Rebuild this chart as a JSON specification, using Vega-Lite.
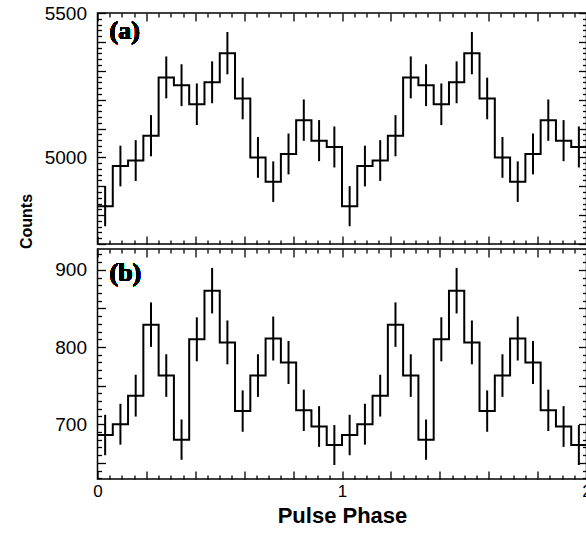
{
  "$schema": "https://vega.github.io/schema/vega-lite/v6.json",
  "padding": {"left": 16.5, "top": 3, "right": 0, "bottom": 0},
  "spacing": 5,
  "bounds": "flush",
  "datasets": {
    "a": [
      {"lo": 0, "hi": 0.0625, "mid": 0.03125, "c": 4831, "e": 69.5},
      {"lo": 0.0625, "hi": 0.125, "mid": 0.09375, "c": 4970, "e": 70.5},
      {"lo": 0.125, "hi": 0.1875, "mid": 0.15625, "c": 4989, "e": 70.6},
      {"lo": 0.1875, "hi": 0.25, "mid": 0.21875, "c": 5075, "e": 71.2},
      {"lo": 0.25, "hi": 0.3125, "mid": 0.28125, "c": 5277, "e": 72.6},
      {"lo": 0.3125, "hi": 0.375, "mid": 0.34375, "c": 5250, "e": 72.5},
      {"lo": 0.375, "hi": 0.4375, "mid": 0.40625, "c": 5184, "e": 72.0},
      {"lo": 0.4375, "hi": 0.5, "mid": 0.46875, "c": 5260, "e": 72.5},
      {"lo": 0.5, "hi": 0.5625, "mid": 0.53125, "c": 5361, "e": 73.2},
      {"lo": 0.5625, "hi": 0.625, "mid": 0.59375, "c": 5204, "e": 72.1},
      {"lo": 0.625, "hi": 0.6875, "mid": 0.65625, "c": 5000, "e": 70.7},
      {"lo": 0.6875, "hi": 0.75, "mid": 0.71875, "c": 4916, "e": 70.1},
      {"lo": 0.75, "hi": 0.8125, "mid": 0.78125, "c": 5012, "e": 70.8},
      {"lo": 0.8125, "hi": 0.875, "mid": 0.84375, "c": 5129, "e": 71.6},
      {"lo": 0.875, "hi": 0.9375, "mid": 0.90625, "c": 5058, "e": 71.1},
      {"lo": 0.9375, "hi": 1, "mid": 0.96875, "c": 5036, "e": 71.0},
      {"lo": 1, "hi": 1.0625, "mid": 1.03125, "c": 4831, "e": 69.5},
      {"lo": 1.0625, "hi": 1.125, "mid": 1.09375, "c": 4970, "e": 70.5},
      {"lo": 1.125, "hi": 1.1875, "mid": 1.15625, "c": 4989, "e": 70.6},
      {"lo": 1.1875, "hi": 1.25, "mid": 1.21875, "c": 5075, "e": 71.2},
      {"lo": 1.25, "hi": 1.3125, "mid": 1.28125, "c": 5277, "e": 72.6},
      {"lo": 1.3125, "hi": 1.375, "mid": 1.34375, "c": 5250, "e": 72.5},
      {"lo": 1.375, "hi": 1.4375, "mid": 1.40625, "c": 5184, "e": 72.0},
      {"lo": 1.4375, "hi": 1.5, "mid": 1.46875, "c": 5260, "e": 72.5},
      {"lo": 1.5, "hi": 1.5625, "mid": 1.53125, "c": 5361, "e": 73.2},
      {"lo": 1.5625, "hi": 1.625, "mid": 1.59375, "c": 5204, "e": 72.1},
      {"lo": 1.625, "hi": 1.6875, "mid": 1.65625, "c": 5000, "e": 70.7},
      {"lo": 1.6875, "hi": 1.75, "mid": 1.71875, "c": 4916, "e": 70.1},
      {"lo": 1.75, "hi": 1.8125, "mid": 1.78125, "c": 5012, "e": 70.8},
      {"lo": 1.8125, "hi": 1.875, "mid": 1.84375, "c": 5129, "e": 71.6},
      {"lo": 1.875, "hi": 1.9375, "mid": 1.90625, "c": 5058, "e": 71.1},
      {"lo": 1.9375, "hi": 2, "mid": 1.96875, "c": 5036, "e": 71.0}
    ],
    "b": [
      {"lo": 0, "hi": 0.0625, "mid": 0.03125, "c": 686, "e": 26.2},
      {"lo": 0.0625, "hi": 0.125, "mid": 0.09375, "c": 700, "e": 26.5},
      {"lo": 0.125, "hi": 0.1875, "mid": 0.15625, "c": 737, "e": 27.1},
      {"lo": 0.1875, "hi": 0.25, "mid": 0.21875, "c": 829, "e": 28.8},
      {"lo": 0.25, "hi": 0.3125, "mid": 0.28125, "c": 763, "e": 27.6},
      {"lo": 0.3125, "hi": 0.375, "mid": 0.34375, "c": 680, "e": 26.1},
      {"lo": 0.375, "hi": 0.4375, "mid": 0.40625, "c": 810, "e": 28.5},
      {"lo": 0.4375, "hi": 0.5, "mid": 0.46875, "c": 873, "e": 29.5},
      {"lo": 0.5, "hi": 0.5625, "mid": 0.53125, "c": 806, "e": 28.4},
      {"lo": 0.5625, "hi": 0.625, "mid": 0.59375, "c": 717, "e": 26.8},
      {"lo": 0.625, "hi": 0.6875, "mid": 0.65625, "c": 763, "e": 27.6},
      {"lo": 0.6875, "hi": 0.75, "mid": 0.71875, "c": 811, "e": 28.5},
      {"lo": 0.75, "hi": 0.8125, "mid": 0.78125, "c": 780, "e": 27.9},
      {"lo": 0.8125, "hi": 0.875, "mid": 0.84375, "c": 718, "e": 26.8},
      {"lo": 0.875, "hi": 0.9375, "mid": 0.90625, "c": 697, "e": 26.4},
      {"lo": 0.9375, "hi": 1, "mid": 0.96875, "c": 673, "e": 25.9},
      {"lo": 1, "hi": 1.0625, "mid": 1.03125, "c": 686, "e": 26.2},
      {"lo": 1.0625, "hi": 1.125, "mid": 1.09375, "c": 700, "e": 26.5},
      {"lo": 1.125, "hi": 1.1875, "mid": 1.15625, "c": 737, "e": 27.1},
      {"lo": 1.1875, "hi": 1.25, "mid": 1.21875, "c": 829, "e": 28.8},
      {"lo": 1.25, "hi": 1.3125, "mid": 1.28125, "c": 763, "e": 27.6},
      {"lo": 1.3125, "hi": 1.375, "mid": 1.34375, "c": 680, "e": 26.1},
      {"lo": 1.375, "hi": 1.4375, "mid": 1.40625, "c": 810, "e": 28.5},
      {"lo": 1.4375, "hi": 1.5, "mid": 1.46875, "c": 873, "e": 29.5},
      {"lo": 1.5, "hi": 1.5625, "mid": 1.53125, "c": 806, "e": 28.4},
      {"lo": 1.5625, "hi": 1.625, "mid": 1.59375, "c": 717, "e": 26.8},
      {"lo": 1.625, "hi": 1.6875, "mid": 1.65625, "c": 763, "e": 27.6},
      {"lo": 1.6875, "hi": 1.75, "mid": 1.71875, "c": 811, "e": 28.5},
      {"lo": 1.75, "hi": 1.8125, "mid": 1.78125, "c": 780, "e": 27.9},
      {"lo": 1.8125, "hi": 1.875, "mid": 1.84375, "c": 718, "e": 26.8},
      {"lo": 1.875, "hi": 1.9375, "mid": 1.90625, "c": 697, "e": 26.4},
      {"lo": 1.9375, "hi": 2, "mid": 1.96875, "c": 673, "e": 25.9}
    ]
  },
  "vconcat": [
    {
      "width": 489,
      "height": 231,
      "data": {"name": "a"},
      "layer": [
        {
          "mark": {"type": "line", "color": "black", "strokeWidth": 2},
          "transform": [{"fold": ["lo", "hi"], "as": ["k", "px"]}],
          "encoding": {
            "x": {
              "field": "px", "type": "quantitative",
              "scale": {"domain": [0, 2], "nice": false, "zero": false},
              "axis": {
                "orient": "bottom", "labels": false, "title": null,
                "values": [0,0.05,0.1,0.15,0.2,0.25,0.3,0.35,0.4,0.45,0.5,0.55,0.6,0.65,0.7,0.75,0.8,0.85,0.9,0.95,1,1.05,1.1,1.15,1.2,1.25,1.3,1.35,1.4,1.45,1.5,1.55,1.6,1.65,1.7,1.75,1.8,1.85,1.9,1.95,2],
                "tickSize": {"condition": {"test": "abs(datum.value*5-round(datum.value*5))<0.001", "value": -8}, "value": -4}
              }
            },
            "y": {
              "field": "c", "type": "quantitative",
              "scale": {"domain": [4700, 5500], "nice": false, "zero": false},
              "axis": {
                "orient": "left",
                "values": [4700,4720,4740,4760,4780,4800,4820,4840,4860,4880,4900,4920,4940,4960,4980,5000,5020,5040,5060,5080,5100,5120,5140,5160,5180,5200,5220,5240,5260,5280,5300,5320,5340,5360,5380,5400,5420,5440,5460,5480,5500],
                "labelExpr": "datum.value % 500 === 0 ? format(datum.value, 'd') : ''",
                "labelFontSize": 19,
                "labelPadding": 19,
                "title": "Counts",
                "titleFontSize": 16,
                "titlePadding": 10,
                "titleY": 208,
                "tickSize": {"condition": {"test": "datum.value % 100 === 0", "value": -8}, "value": -4}
              }
            },
            "order": [
              {"field": "mid", "type": "quantitative", "sort": "ascending"},
              {"field": "k", "type": "ordinal", "sort": "descending"}
            ]
          }
        },
        {
          "mark": {"type": "errorbar", "color": "black", "thickness": 2},
          "encoding": {
            "x": {
              "field": "mid", "type": "quantitative",
              "axis": {
                "orient": "top", "labels": false, "title": null,
                "values": [0,0.05,0.1,0.15,0.2,0.25,0.3,0.35,0.4,0.45,0.5,0.55,0.6,0.65,0.7,0.75,0.8,0.85,0.9,0.95,1,1.05,1.1,1.15,1.2,1.25,1.3,1.35,1.4,1.45,1.5,1.55,1.6,1.65,1.7,1.75,1.8,1.85,1.9,1.95,2],
                "tickSize": {"condition": {"test": "abs(datum.value*5-round(datum.value*5))<0.001", "value": -8}, "value": -4}
              }
            },
            "y": {
              "field": "c", "type": "quantitative",
              "axis": {
                "orient": "right", "labels": false, "title": null,
                "values": [4700,4720,4740,4760,4780,4800,4820,4840,4860,4880,4900,4920,4940,4960,4980,5000,5020,5040,5060,5080,5100,5120,5140,5160,5180,5200,5220,5240,5260,5280,5300,5320,5340,5360,5380,5400,5420,5440,5460,5480,5500],
                "tickSize": {"condition": {"test": "datum.value % 100 === 0", "value": -8}, "value": -4}
              }
            },
            "yError": {"field": "e"}
          }
        },
        {
          "mark": {"type": "text", "text": "(a)", "font": "Liberation Serif", "fontWeight": "bold", "fontSize": 26, "align": "left", "baseline": "middle", "color": "black"},
          "encoding": {
            "x": {"datum": 0.049, "type": "quantitative", "axis": null},
            "y": {"datum": 5437, "type": "quantitative", "axis": null}
          }
        }
      ],
      "resolve": {"axis": {"x": "independent", "y": "independent"}}
    },
    {
      "width": 489,
      "height": 230,
      "data": {"name": "b"},
      "layer": [
        {
          "mark": {"type": "line", "color": "black", "strokeWidth": 2},
          "transform": [{"fold": ["lo", "hi"], "as": ["k", "px"]}],
          "encoding": {
            "x": {
              "field": "px", "type": "quantitative",
              "scale": {"domain": [0, 2], "nice": false, "zero": false},
              "axis": {
                "orient": "bottom",
                "values": [0,0.05,0.1,0.15,0.2,0.25,0.3,0.35,0.4,0.45,0.5,0.55,0.6,0.65,0.7,0.75,0.8,0.85,0.9,0.95,1,1.05,1.1,1.15,1.2,1.25,1.3,1.35,1.4,1.45,1.5,1.55,1.6,1.65,1.7,1.75,1.8,1.85,1.9,1.95,2],
                "labelExpr": "abs(datum.value-round(datum.value))<0.001 ? format(datum.value, 'd') : ''",
                "labelFontSize": 17,
                "labelPadding": 12,
                "title": "Pulse Phase",
                "titleFontSize": 22,
                "titlePadding": 2,
                "tickSize": {"condition": {"test": "abs(datum.value*5-round(datum.value*5))<0.001", "value": -8}, "value": -4}
              }
            },
            "y": {
              "field": "c", "type": "quantitative",
              "scale": {"domain": [629, 927], "nice": false, "zero": false},
              "axis": {
                "orient": "left",
                "values": [630,640,650,660,670,680,690,700,710,720,730,740,750,760,770,780,790,800,810,820,830,840,850,860,870,880,890,900,910,920],
                "labelExpr": "datum.value % 100 === 0 ? format(datum.value, 'd') : ''",
                "labelFontSize": 19,
                "labelPadding": 19,
                "title": null,
                "tickSize": {"condition": {"test": "datum.value % 50 === 0", "value": -8}, "value": -4}
              }
            },
            "order": [
              {"field": "mid", "type": "quantitative", "sort": "ascending"},
              {"field": "k", "type": "ordinal", "sort": "descending"}
            ]
          }
        },
        {
          "mark": {"type": "errorbar", "color": "black", "thickness": 2},
          "encoding": {
            "x": {
              "field": "mid", "type": "quantitative",
              "axis": {
                "orient": "top", "labels": false, "title": null,
                "values": [0,0.05,0.1,0.15,0.2,0.25,0.3,0.35,0.4,0.45,0.5,0.55,0.6,0.65,0.7,0.75,0.8,0.85,0.9,0.95,1,1.05,1.1,1.15,1.2,1.25,1.3,1.35,1.4,1.45,1.5,1.55,1.6,1.65,1.7,1.75,1.8,1.85,1.9,1.95,2],
                "tickSize": {"condition": {"test": "abs(datum.value*5-round(datum.value*5))<0.001", "value": -8}, "value": -4}
              }
            },
            "y": {
              "field": "c", "type": "quantitative",
              "axis": {
                "orient": "right", "labels": false, "title": null,
                "values": [630,640,650,660,670,680,690,700,710,720,730,740,750,760,770,780,790,800,810,820,830,840,850,860,870,880,890,900,910,920],
                "tickSize": {"condition": {"test": "datum.value % 50 === 0", "value": -8}, "value": -4}
              }
            },
            "yError": {"field": "e"}
          }
        },
        {
          "mark": {"type": "text", "text": "(b)", "font": "Liberation Serif", "fontWeight": "bold", "fontSize": 26, "align": "left", "baseline": "middle", "color": "black"},
          "encoding": {
            "x": {"datum": 0.049, "type": "quantitative", "axis": null},
            "y": {"datum": 896, "type": "quantitative", "axis": null}
          }
        }
      ],
      "resolve": {"axis": {"x": "independent", "y": "independent"}}
    }
  ],
  "config": {
    "background": "white",
    "view": {"stroke": "black", "strokeWidth": 1.5},
    "axis": {
      "domain": false,
      "grid": false,
      "tickColor": "black",
      "tickWidth": 1.3,
      "labelFont": "Liberation Sans",
      "labelColor": "black",
      "labelOverlap": false,
      "labelFlush": false,
      "titleFont": "Liberation Sans",
      "titleColor": "black",
      "titleFontWeight": "bold"
    }
  }
}
